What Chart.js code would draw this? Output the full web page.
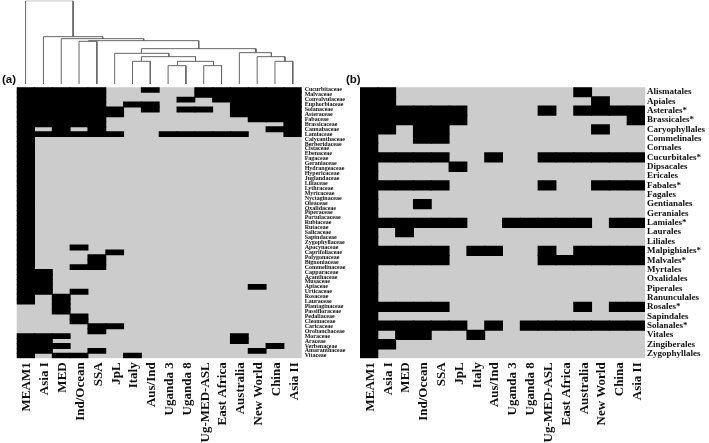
<!DOCTYPE html>
<html>
<head>
<meta charset="utf-8">
<style>
html,body{margin:0;padding:0;background:#fff;width:709px;height:443px;overflow:hidden}
canvas{position:absolute}
.tag{position:absolute;font:bold 11.5px "Liberation Sans",Arial,sans-serif;color:#111;line-height:12px}
</style>
<script src="https://cdn.jsdelivr.net/npm/chart.js@4"></script>
</head>
<body>
<canvas id="tree" width="360" height="90" style="left:0;top:0"></canvas>
<canvas id="chartA" width="360" height="443" style="left:0;top:0"></canvas>
<canvas id="chartB" width="360" height="443" style="left:349px;top:0"></canvas>
<div class="tag" style="left:2px;top:73px">(a)</div>
<div class="tag" style="left:346px;top:73px">(b)</div>
<script>
const regions = ["MEAM1","Asia I","MED","Ind/Ocean","SSA","JpL","Italy","Aus/Ind","Uganda 3","Uganda 8","Ug-MED-ASL","East Africa","Australia","New World","China","Asia II"];

const families = ["Cucurbitaceae","Malvaceae","Convolvulaceae","Euphorbiaceae","Solanaceae","Asteraceae","Fabaceae","Brassicaceae","Cannabaceae","Lamiaceae","Calycanthaceae","Berberidaceae","Cistaceae","Ebenaceae","Fagaceae","Geraniaceae","Hydrangeaceae","Hypericaceae","Juglandaceae","Liliaceae","Lythraceae","Myricaceae","Nyctaginaceae","Oleaceae","Oxalidaceae","Piperaceae","Portulacaceae","Rubiaceae","Rutaceae","Salicaceae","Sapindaceae","Zygophyllaceae","Apocynaceae","Caprifoliaceae","Polygonaceae","Bignoniaceae","Commelinaceae","Capparaceae","Acanthaceae","Musaceae","Apiaceae","Urticaceae","Rosaceae","Lauraceae","Plantaginaceae","Passifloraceae","Pedaliaceae","Cleomaceae","Caricaceae","Orobanchaceae","Moraceae","Araceae","Verbenaceae","Amaranthaceae","Vitaceae"];

// Presence of each family per region, one string per family, one character per region
const familyPresence = [
"1111100100111111","1111100000111111","1111100001011111","1111101100001111","1111110101101111",
"1111110000001111","1111100000000111","1111100000000001","1010100000000011","1111110011111001",
"1000000000000000","1000000000000000","1000000000000000","1000000000000000","1000000000000000",
"1000000000000000","1000000000000000","1000000000000000","1000000000000000","1000000000000000",
"1000000000000000","1000000000000000","1000000000000000","1000000000000000","1000000000000000",
"1000000000000000","1000000000000000","1000000000000000","1000000000000000","1000000000000000",
"1000000000000000","1000000000000000","1001000000000000","1000010000000000","1000100000000000",
"1000100000000000","1001100000000000","1100000000000000","1100000000000000","1100000000000000",
"1100000000000100","1101000000000000","1010000000000000","1010000000000000","0010000000000000",
"0010000000000000","0001000000000000","0001000000000000","0000110000000000","0000100000000000",
"1110000000001000","1100000000001000","1110000000000010","1100100000000100","1011001000000000"];

const orders = ["Alismatales","Apiales","Asterales*","Brassicales*","Caryophyllales","Commelinales","Cornales","Cucurbitales*","Dipsacales","Ericales","Fabales*","Fagales","Gentianales","Geraniales","Lamiales*","Laurales","Liliales","Malpighiales*","Malvales*","Myrtales","Oxalidales","Piperales","Ranunculales","Rosales*","Sapindales","Solanales*","Vitales","Zingiberales","Zygophyllales"];

const orderPresence = [
"1100000000001000","1100000000000100","1111110000101111","1111110000000001","1101100000000100",
"1001100000000000","1000000000000000","1111100100111111","1000010000000000","1000000000000000",
"1111100000100111","1000000000000000","1001000000000000","1000000000000000","1111110011111011",
"1010000000000000","1000000000000000","1111101100101111","1111100000111111","1000000000000000",
"1000000000000000","1000000000000000","1000000000000000","1111100000001011","1000000000000000",
"1111110101111111","1011001000000000","1100000000000000","1000000000000000"];

// Dendrogram links: each joins two positions on the region axis at a given height
const linkLeftPos    = [0.5,1.5,2.5,4.03,3.5,7.0,5.5,7.0,6.5,9.03,8.5,10.5,12.5,13.5,14.5];
const linkRightPos   = [3.165,4.83,7.13,10.22,4.5,13.43,8.54,10.04,7.5,11.05,9.5,11.5,14.3,15.06,15.5];
const linkHeight     = [250,142,136,130,128,106,92,82,68,68,55,55,94,82,68];
const linkLeftBase   = [0,0,0,128,0,92,0,68,0,55,0,0,0,0,0];
const linkRightBase  = [142,136,130,106,0,94,82,68,0,55,0,0,82,68,0];

const INK = "#000000", ABSENT = "#cccccc";

function heatmap(id, rowLabels, presence, rowFont, leftPad, rowPad) {
  const datasets = regions.map((name, c) => ({
    label: name,
    data: presence.map(row => row[c] === "1" ? [c, c + 1] : null),
    backgroundColor: INK, inflateAmount: 0.5,
    barPercentage: 1, categoryPercentage: 1, grouped: false, order: 1
  }));
  datasets.push({
    label: "absent",
    data: rowLabels.map(() => [0, regions.length]),
    backgroundColor: ABSENT, inflateAmount: 0.5,
    barPercentage: 1, categoryPercentage: 1, grouped: false, order: 2
  });
  return new Chart(document.getElementById(id), {
    type: "bar",
    data: { labels: rowLabels, datasets },
    options: {
      indexAxis: "y", responsive: false, animation: false,
      layout: { padding: { left: leftPad, top: 87.3, right: 0, bottom: 0 } },
      plugins: { legend: { display: false }, tooltip: { enabled: false }, title: { display: false } },
      scales: {
        x: {
          type: "linear", min: 0, max: regions.length, position: "bottom",
          grid: { display: false, drawTicks: false }, border: { display: false },
          afterBuildTicks: s => { s.ticks = regions.map((r, i) => ({ value: i + 0.5 })); },
          afterFit: s => { s.height = 84.7; s.paddingLeft = 0; s.paddingRight = 0; },
          ticks: {
            autoSkip: false, minRotation: 90, maxRotation: 90, padding: 4, labelOffset: 1.5,
            color: "#111", font: { family: "'Liberation Serif'", weight: "bold", size: 13 },
            callback: (v, i) => regions[i]
          }
        },
        y: {
          type: "category", position: "right",
          grid: { display: false, drawTicks: false }, border: { display: false },
          afterFit: s => { s.width = 360 - leftPad - 285; },
          ticks: {
            autoSkip: false, padding: rowPad, color: "#111",
            font: { family: "'Liberation Serif'", weight: "bold", size: rowFont, lineHeight: 1 }
          }
        }
      }
    }
  });
}

heatmap("chartA", families, familyPresence, 6, 16.7, 3);
heatmap("chartB", orders, orderPresence, 9, 11, 2);

new Chart(document.getElementById("tree"), {
  type: "scatter",
  data: {
    datasets: linkHeight.map((h, i) => ({
      data: [
        { x: linkLeftPos[i], y: linkLeftBase[i] },
        { x: linkLeftPos[i], y: h },
        { x: linkRightPos[i], y: h },
        { x: linkRightPos[i], y: linkRightBase[i] }
      ],
      showLine: true, borderColor: "#666666", borderWidth: 1, pointRadius: 0, tension: 0
    }))
  },
  options: {
    responsive: false, animation: false,
    layout: { padding: { left: 16.7, right: 58.3, top: 0.67, bottom: 6 } },
    plugins: { legend: { display: false }, tooltip: { enabled: false } },
    scales: {
      x: { type: "linear", min: 0, max: regions.length, display: false },
      y: { type: "linear", min: 0, max: 250, display: false }
    }
  }
});
</script>
</body>
</html>
